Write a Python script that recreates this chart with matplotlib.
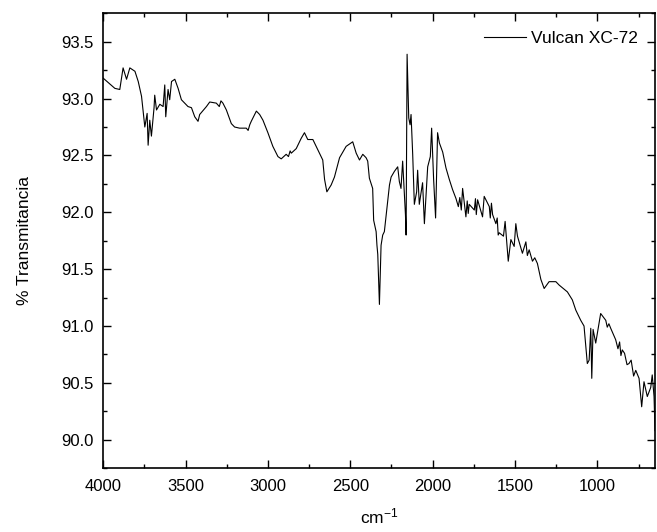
import matplotlib
matplotlib.use("Agg")
import matplotlib.pyplot as plt
from matplotlib.ticker import MultipleLocator

plt.rcParams['font.family'] = ['Liberation Sans', 'DejaVu Sans']
plt.rcParams['mathtext.default'] = 'regular'

# Espectro FTIR del negro de carbón (número de onda en cm-1, % transmitancia)
wavenumber = [
    4000, 3929, 3899, 3879, 3858, 3838, 3807, 3787, 3767, 3747,
    3733, 3727, 3717, 3707, 3691, 3687, 3676, 3656, 3636, 3626,
    3620, 3606, 3596, 3585, 3565, 3545, 3525, 3505, 3485, 3464,
    3444, 3424, 3414, 3373, 3353, 3313, 3295, 3285, 3273, 3252,
    3222, 3202, 3172, 3131, 3120, 3110, 3101, 3070, 3050, 3030,
    3000, 2970, 2939, 2919, 2889, 2875, 2865, 2858, 2828, 2798,
    2778, 2758, 2727, 2687, 2667, 2656, 2642, 2616, 2596, 2565,
    2525, 2485, 2464, 2444, 2424, 2404, 2394, 2384, 2364, 2358,
    2343, 2338, 2333, 2323, 2313, 2303, 2293, 2273, 2262, 2252,
    2232, 2212, 2202, 2192, 2182, 2165, 2161, 2155, 2145, 2137,
    2131, 2121, 2111, 2097, 2091, 2081, 2061, 2050, 2030, 2014,
    2006, 1994, 1982, 1970, 1959, 1939, 1919, 1899, 1879, 1858,
    1844, 1835, 1826, 1818, 1798, 1790, 1784, 1778, 1747, 1740,
    1735, 1727, 1697, 1687, 1656, 1650, 1643, 1636, 1616, 1608,
    1602, 1596, 1570, 1560, 1541, 1525, 1505, 1495, 1485, 1455,
    1434, 1425, 1414, 1394, 1380, 1364, 1343, 1323, 1293, 1252,
    1232, 1182, 1152, 1131, 1101, 1081, 1061, 1050, 1040, 1034,
    1026, 1010, 980, 949, 940, 930, 919, 889, 875, 865,
    857, 849, 835, 820, 808, 795, 780, 767, 747, 731,
    717, 697, 676, 667, 656, 650,
]
transmittance = [
    93.18, 93.09, 93.08, 93.27, 93.17, 93.27, 93.24, 93.15, 93.02, 92.75,
    92.87, 92.59, 92.81, 92.67, 92.92, 93.03, 92.90, 92.95, 92.93, 93.12,
    92.84, 93.08, 92.99, 93.15, 93.17, 93.09, 92.99, 92.96, 92.93, 92.92,
    92.84, 92.80, 92.86, 92.93, 92.97, 92.96, 92.93, 92.98, 92.96, 92.90,
    92.78, 92.75, 92.74, 92.74, 92.72, 92.77, 92.80, 92.89, 92.86, 92.81,
    92.70, 92.58, 92.49, 92.47, 92.51, 92.49, 92.54, 92.52, 92.56, 92.65,
    92.70, 92.64, 92.64, 92.52, 92.46, 92.29, 92.18, 92.24, 92.31, 92.48,
    92.58, 92.62, 92.52, 92.46, 92.51, 92.48, 92.45, 92.30, 92.21, 91.93,
    91.83, 91.71, 91.63, 91.19, 91.71, 91.80, 91.83, 92.09, 92.24, 92.31,
    92.36, 92.40, 92.27, 92.21, 92.45, 91.98, 91.80, 93.39, 92.83, 92.77,
    92.86, 92.51, 92.07, 92.18, 92.37, 92.07, 92.26, 91.90, 92.40, 92.49,
    92.74, 92.29, 91.95, 92.70, 92.61, 92.53, 92.39, 92.29, 92.20, 92.12,
    92.05, 92.13, 92.02, 92.21, 91.96, 92.10, 91.99, 92.07, 92.02, 92.12,
    91.98, 92.11, 91.96, 92.14, 92.05, 91.95, 92.08, 91.98, 91.90, 91.95,
    91.80, 91.82, 91.79, 91.92, 91.57, 91.76, 91.70, 91.90, 91.79, 91.64,
    91.74, 91.62, 91.67, 91.57, 91.60, 91.55, 91.41, 91.33, 91.39, 91.39,
    91.36, 91.30, 91.23, 91.14, 91.05, 91.00, 90.67, 90.70, 90.98, 90.54,
    90.97, 90.85, 91.11, 91.05, 90.99, 91.02, 90.98, 90.88, 90.80, 90.86,
    90.74, 90.79, 90.76, 90.66, 90.67, 90.70, 90.56, 90.61, 90.54, 90.29,
    90.51, 90.38, 90.46, 90.57, 90.38, 90.08,
]

fig = plt.figure(figsize=(6.57, 5.32), dpi=100)
ax = fig.add_axes([0.157, 0.12, 0.84, 0.855])

ax.plot(wavenumber, transmittance, color='black', lw=0.8, label='Vulcan XC-72')

ax.set_xlim(4000, 650)
ax.set_ylim(89.75, 93.75)
ax.xaxis.set_major_locator(MultipleLocator(500))
ax.xaxis.set_minor_locator(MultipleLocator(250))
ax.yaxis.set_major_locator(MultipleLocator(0.5))
ax.yaxis.set_minor_locator(MultipleLocator(0.25))
ax.yaxis.set_major_formatter(plt.FormatStrFormatter('%.1f'))

for s in ax.spines.values():
    s.set_linewidth(1.2)
ax.tick_params(which='both', direction='in', top=True, right=True, width=1.0,
               labelsize=12)
ax.tick_params(which='major', length=6)
ax.tick_params(which='minor', length=3)
ax.tick_params(axis='y', pad=7)
ax.tick_params(axis='x', pad=8)

ax.set_xlabel(r'cm$^{-1}$', fontsize=12.5, labelpad=9)
ax.set_ylabel('% Transmitancia', fontsize=12.5, labelpad=21)

ax.legend(loc='upper right', frameon=False, fontsize=12.5, handlelength=2.4,
          handletextpad=0.3, borderaxespad=0.6)

fig.savefig('out.png', dpi=100)
